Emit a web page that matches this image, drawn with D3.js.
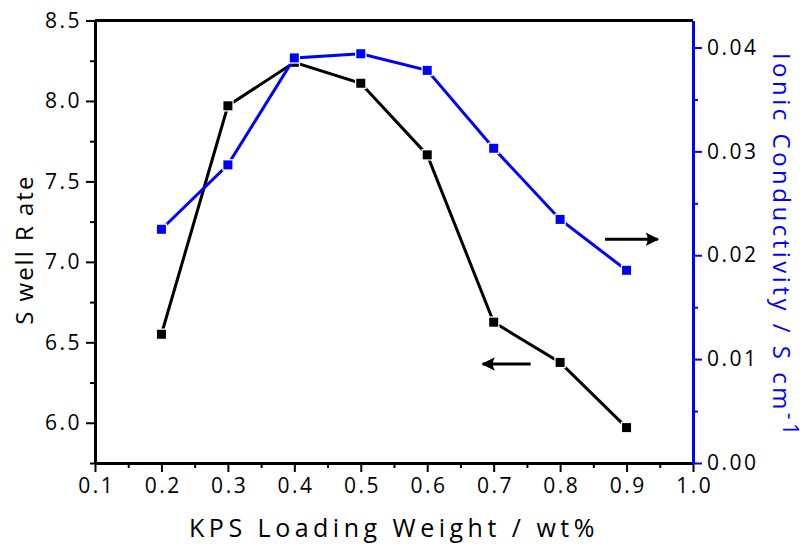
<!DOCTYPE html>
<html>
<head>
<meta charset="utf-8">
<script src="https://cdn.jsdelivr.net/npm/d3@7"></script>
<style>
  body { margin: 0; background: #fff; }
  text { font-family: "Open Sans", sans-serif; }
</style>
</head>
<body>
<div id="chart"></div>
<script>
// data
var loading = [0.2, 0.3, 0.4, 0.5, 0.6, 0.7, 0.8, 0.9];
var swellRate = [6.55, 7.97, 8.24, 8.11, 7.665, 6.625, 6.375, 5.97];
var conductivity = [0.0225, 0.0287, 0.0390, 0.0394, 0.0378, 0.0303, 0.02345, 0.01855];
var xTicks = [0.1, 0.2, 0.3, 0.4, 0.5, 0.6, 0.7, 0.8, 0.9, 1.0];
var leftTicks = [6.0, 6.5, 7.0, 7.5, 8.0, 8.5];
var rightTicks = [0.00, 0.01, 0.02, 0.03, 0.04];

var margin = {top: 20.5, right: 113, bottom: 86, left: 95},
    width = 806 - margin.left - margin.right,
    height = 549 - margin.top - margin.bottom;

var svg = d3.select("#chart")
  .append("svg")
    .attr("width", 806)
    .attr("height", 549)
  .append("g")
    .attr("transform", "translate(" + margin.left + "," + margin.top + ")");

var x = d3.scaleLinear().domain([0.1, 1.0]).range([0, width]);
var yL = d3.scaleLinear().domain([5.75, 8.5]).range([height, 0]);
var yR = d3.scaleLinear().domain([0, 0.0426]).range([height, 0]);

// minor ticks
var xMinor = d3.range(0.15, 1.0, 0.1);
var lMinor = d3.range(5.75, 8.5, 0.5);
var rMinor = d3.range(0.005, 0.042, 0.01);

function styleAxis(g, color) {
  g.select(".domain").attr("stroke", color).attr("stroke-width", 3);
  g.selectAll(".tick line").attr("stroke", color).attr("stroke-width", 2);
  g.selectAll(".tick text").attr("fill", "#000").style("font-size", "21px")
    .style("letter-spacing", "2.5px");
}

// x axis
svg.append("g")
    .attr("transform", "translate(0," + height + ")")
    .call(d3.axisBottom(x).tickValues(xMinor).tickSize(5).tickFormat("").tickSizeOuter(0))
    .call(function(g) { styleAxis(g, "#000"); });
svg.append("g")
    .attr("transform", "translate(0," + height + ")")
    .call(d3.axisBottom(x).tickValues(xTicks).tickSize(9).tickPadding(6)
      .tickFormat(d3.format(".1f")).tickSizeOuter(0))
    .call(function(g) {
      styleAxis(g, "#000");
      g.selectAll(".tick text").attr("dx", "1.25px");
    });

// top border
svg.append("line")
    .attr("x1", 0).attr("x2", width).attr("y1", 0).attr("y2", 0)
    .attr("stroke", "#000").attr("stroke-width", 3);

// left axis
svg.append("g")
    .call(d3.axisLeft(yL).tickValues(lMinor).tickSize(5).tickFormat("").tickSizeOuter(0))
    .call(function(g) { styleAxis(g, "#000"); });
svg.append("g")
    .call(d3.axisLeft(yL).tickValues(leftTicks).tickSize(9).tickPadding(4)
      .tickFormat(d3.format(".1f")).tickSizeOuter(0))
    .call(function(g) { styleAxis(g, "#000"); });

// right axis
svg.append("g")
    .attr("transform", "translate(" + width + ",0)")
    .call(d3.axisRight(yR).tickValues(rMinor).tickSize(5).tickFormat("").tickSizeOuter(0))
    .call(function(g) { styleAxis(g, "#0000ff"); });
svg.append("g")
    .attr("transform", "translate(" + width + ",0)")
    .call(d3.axisRight(yR).tickValues(rightTicks).tickSize(9).tickPadding(5)
      .tickFormat(d3.format(".2f")).tickSizeOuter(0))
    .call(function(g) { styleAxis(g, "#0000ff"); });

// series
function drawSeries(vals, yScale, color) {
  var pts = loading.map(function(d, i) { return [d, vals[i]]; });
  svg.append("path")
      .datum(pts)
      .attr("fill", "none")
      .attr("stroke", color)
      .attr("stroke-width", 3)
      .attr("d", d3.line()
        .x(function(d) { return x(d[0]); })
        .y(function(d) { return yScale(d[1]); }));
  svg.selectAll(null)
      .data(pts)
      .enter()
      .append("rect")
        .attr("x", function(d) { return x(d[0]) - 4.5; })
        .attr("y", function(d) { return yScale(d[1]) - 4.5; })
        .attr("width", 9)
        .attr("height", 9)
        .attr("fill", color)
        .attr("stroke", "#fff")
        .attr("stroke-width", 2.5)
        .attr("paint-order", "stroke");
}
drawSeries(swellRate, yL, "#000");
drawSeries(conductivity, yR, "#0000ff");

// arrows pointing to the axes
svg.append("defs").append("marker")
    .attr("id", "head")
    .attr("viewBox", "0 0 10 10")
    .attr("refX", 9).attr("refY", 5)
    .attr("markerWidth", 7).attr("markerHeight", 4.5)
    .attr("markerUnits", "strokeWidth")
    .attr("orient", "auto")
  .append("path")
    .attr("d", "M0,0 L10,5 L0,10 Q3,5 0,0 Z")
    .attr("fill", "#000");

svg.append("line")
    .attr("x1", x(0.7557)).attr("x2", x(0.6835))
    .attr("y1", yL(6.366)).attr("y2", yL(6.366))
    .attr("stroke", "#000").attr("stroke-width", 3)
    .attr("marker-end", "url(#head)");
svg.append("line")
    .attr("x1", x(0.8676)).attr("x2", x(0.947))
    .attr("y1", yR(0.02155)).attr("y2", yR(0.02155))
    .attr("stroke", "#000").attr("stroke-width", 3)
    .attr("marker-end", "url(#head)");

// axis titles
svg.append("text")
    .attr("x", width / 2)
    .attr("y", height + 74)
    .attr("text-anchor", "middle")
    .style("font-size", "25px")
    .style("letter-spacing", "4.5px")
    .text("KPS Loading Weight / wt%");

svg.append("text")
    .attr("transform", "translate(-62," + (height / 2 + 8) + ") rotate(-90)")
    .attr("text-anchor", "middle")
    .style("font-size", "24px")
    .style("letter-spacing", "2px")
    .text("S well R ate");

var rt = svg.append("text")
    .attr("transform", "translate(" + (width + 80) + "," + (height / 2 + 4) + ") rotate(90)")
    .attr("text-anchor", "middle")
    .attr("fill", "#0000ff")
    .style("font-size", "24px")
    .style("letter-spacing", "3.5px");
rt.append("tspan").text("Ionic Conductivity / S cm");
rt.append("tspan").attr("dy", -10).style("font-size", "21px").text("-1");
</script>
</body>
</html>
